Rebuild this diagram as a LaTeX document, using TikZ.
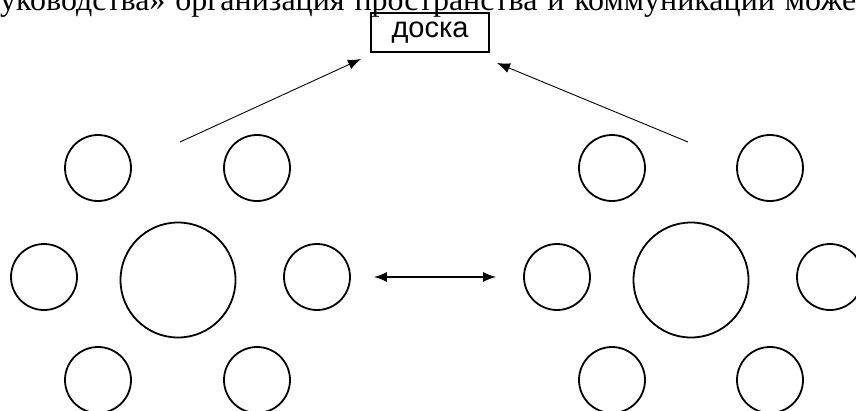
\documentclass[tikz,border=0pt]{standalone}
\usepackage{fontspec}
\setmainfont{Liberation Serif}
\newfontfamily\boardfont{Liberation Sans}
\usetikzlibrary{arrows.meta,calc}
\begin{document}
\begin{tikzpicture}[x=1pt,y=-1pt,
  seat/.style={circle,draw,line width=1.8pt,minimum size=66pt,inner sep=0pt},
  tbl/.style={circle,draw,line width=1.8pt,minimum size=115pt,inner sep=0pt},
  ptr/.style={line width=0.9pt,-{Latex[length=13pt,width=10pt]}},
  dbl/.style={line width=1.4pt,{Latex[length=13pt,width=10pt]}-{Latex[length=13pt,width=10pt]}}]
\useasboundingbox (0,0) rectangle (856,410);
\clip (0,0) rectangle (856,410);
% cut top text line (justified line of a paragraph)
\node[anchor=base west,inner sep=0pt,font=\fontsize{32}{36}\selectfont] (top) at (0,10) {\makebox[870pt][s]{уководства» организация пространства и коммуникации может}};
% board
\node[draw,line width=1.4pt,minimum width=118pt,minimum height=39pt,inner sep=0pt,font=\boardfont\fontsize{29}{32}\selectfont] (board) at (430,32.5) {доска};
% left group
\node[tbl] (Lc) at (178,280) {};
\node[seat] (Ltl) at (98,168) {};
\node[seat] (Ltr) at (257,168) {};
\node[seat] (Ll) at (44,277) {};
\node[seat] (Lr) at (317,277) {};
\node[seat] (Lbl) at (98,380) {};
\node[seat] (Lbr) at (257,380) {};
% right group
\node[tbl] (Rc) at (691,280) {};
\node[seat] (Rtl) at (612,168) {};
\node[seat] (Rtr) at (770,168) {};
\node[seat] (Rl) at (557,277) {};
\node[seat] (Rr) at (830,277) {};
\node[seat] (Rbl) at (612,380) {};
\node[seat] (Rbr) at (770,380) {};
% connectors
\coordinate (ls) at (180,142);
\coordinate (lt) at (361,59);
\coordinate (rs) at (688,142);
\coordinate (rt) at (497,63);
\draw[ptr] (ls) -- (lt);
\draw[ptr] (rs) -- (rt);
\draw[dbl,shorten <=23pt,shorten >=27pt] (Lr.east) -- (Rl.west);
\end{tikzpicture}
\end{document}
